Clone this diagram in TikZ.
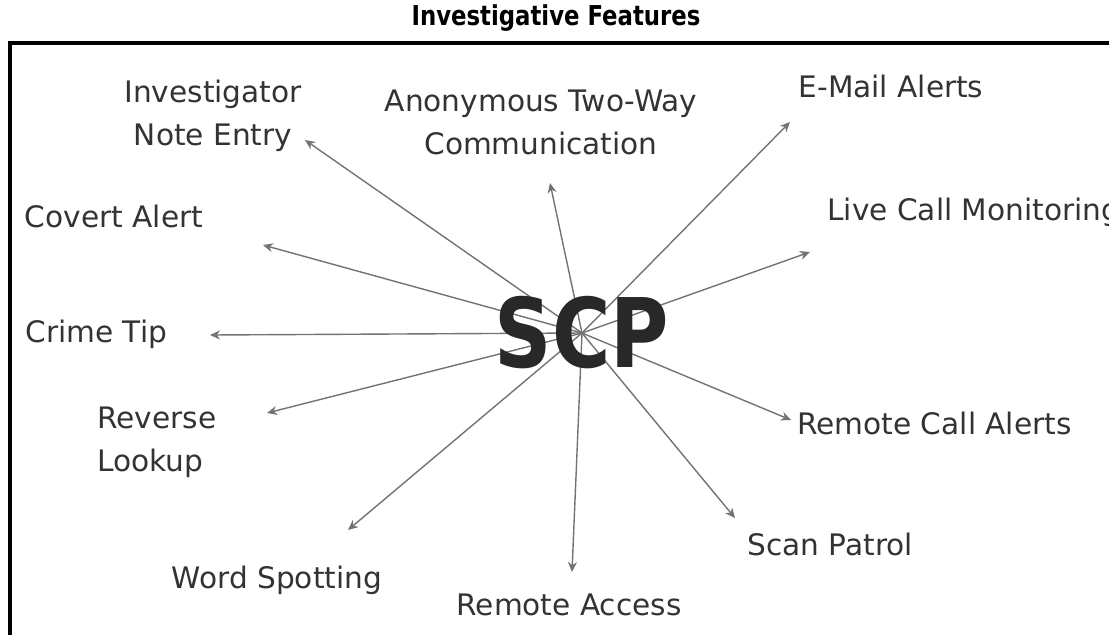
\documentclass[tikz,border=0pt]{standalone}
\usepackage{fontspec}
\setmainfont{DejaVu Sans}
\usetikzlibrary{arrows.meta, backgrounds}
\definecolor{scpgray}{RGB}{40,40,40}
\definecolor{spokegray}{RGB}{115,115,115}

\begin{document}
\begin{tikzpicture}[x=0.5pt, y=-0.5pt,
  feat/.style={font=\fontsize{14.8}{21.5}\selectfont, inner sep=0pt, text=black!80},
  spoke/.style={spokegray, line width=0.7pt, -{Stealth[length=5pt,width=4.5pt]}}]

\useasboundingbox (0,0) rectangle (1109,634);
\clip (0,0) rectangle (1109,634);

% --- Title and frame ---
\node[font=\fontsize{11.4}{14}\selectfont\bfseries, inner sep=0pt, yscale=1.2] (title) at (556,18) {Investigative Features};
\draw[line width=1.6pt] (10,700) -- (10,43) -- (1200,43);

% --- Hub ---
\node[font=\fontsize{48}{50}\selectfont\bfseries, text=scpgray, inner sep=0pt, xscale=0.83] (scp) at (582,333) {SCP};

% --- Feature labels ---
\node[feat, align=center] (note) at (213,116) {Investigator\\Note Entry};
\node[feat, align=center] (anon) at (541,122) {Anonymous Two-Way\\Communication};
\node[feat, anchor=base] (email) at (891,97) {E-Mail Alerts};
\node[feat, anchor=base west] (live) at (827,220) {Live Call Monitoring};
\node[feat, anchor=base] (covert) at (114,227) {Covert Alert};
\node[feat, anchor=base west] (crime) at (25,342) {Crime Tip};
\node[feat, anchor=west, align=left] (reverse) at (97,442) {Reverse\\Lookup};
\node[feat, anchor=base] (word) at (277,588) {Word Spotting};
\node[feat, anchor=base] (raccess) at (569,615) {Remote Access};
\node[feat, anchor=base west] (scan) at (747,555) {Scan Patrol};
\node[feat, anchor=base west] (rcall) at (797,434) {Remote Call Alerts};

% arrow ends next to the labels
\coordinate (note-tip) at (305,140);
\coordinate (anon-tip) at (550,183);
\coordinate (email-tip) at (790,122);
\coordinate (live-tip) at (810,252);
\coordinate (covert-tip) at (263,245);
\coordinate (crime-tip) at (210,335);
\coordinate (reverse-tip) at (267,413);
\coordinate (word-tip) at (348,530);
\coordinate (raccess-tip) at (572,572);
\coordinate (scan-tip) at (735,518);
\coordinate (rcall-tip) at (791,420);

% --- Spokes, behind the letters ---
\begin{scope}[on background layer]
\foreach \f in {note,anon,email,live,covert,crime,reverse,word,raccess,scan,rcall}
  \draw[spoke] (scp.center) -- (\f-tip);
\end{scope}

\end{tikzpicture}
\end{document}
